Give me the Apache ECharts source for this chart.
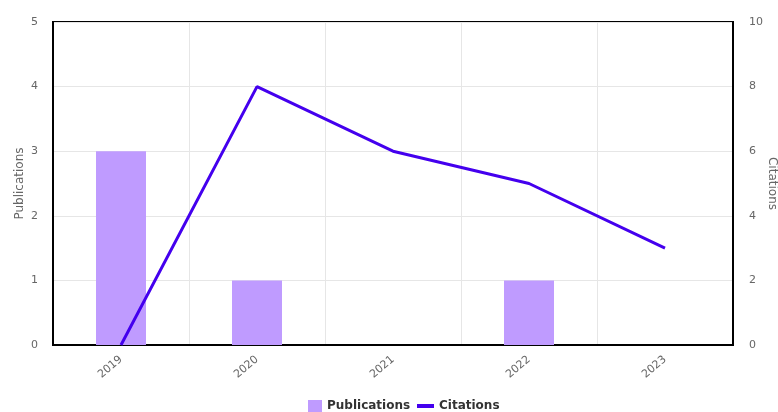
<!DOCTYPE html>
<html>
<head>
<meta charset="utf-8">
<script src="https://cdn.jsdelivr.net/npm/echarts@6/dist/echarts.min.js"></script>
<style>html,body{margin:0;padding:0;background:#fff}#c{width:778px;height:412px}</style>
</head>
<body>
<div id="c"></div>
<script>
const years = ['2019', '2020', '2021', '2022', '2023'];
const publications = [3, 1, 0, 1, 0];
const citations = [0, 8, 6, 5, 3];

const chart = echarts.init(document.getElementById('c'));
const font = 'DejaVu Sans';
const legendText = { fontFamily: font, fontWeight: 'bold', fontSize: 12, color: '#333' };
chart.setOption({
  animation: false,
  textStyle: { fontFamily: font },
  grid: { left: 53, right: 45, top: 22, bottom: 67, show: true, borderColor: '#000', borderWidth: 2, backgroundColor: 'transparent', containLabel: false, outerBoundsMode: 'none' },
  legend: [
    {
      left: 306, top: 398, itemWidth: 14, itemHeight: 12, itemGap: 6, padding: 2,
      textStyle: legendText,
      data: [{ name: 'Publications', icon: 'rect' }]
    },
    {
      left: 415, top: 398, itemWidth: 17, itemHeight: 4, padding: 2,
      textStyle: legendText,
      data: [{ name: 'Citations', icon: 'rect' }]
    }
  ],
  xAxis: {
    type: 'category', data: years,
    axisLine: { lineStyle: { color: '#000', width: 2 } },
    axisTick: { show: false },
    axisLabel: { rotate: 40, color: '#666', fontSize: 11, margin: 13, fontFamily: font },
    splitLine: { show: true, lineStyle: { color: '#e6e6e6' } }
  },
  yAxis: [
    {
      type: 'value', min: 0, max: 5, interval: 1, name: 'Publications',
      nameLocation: 'middle', nameGap: 27, nameRotate: 90, nameMoveOverlap: false,
      nameTextStyle: { color: '#666', fontSize: 12, fontFamily: font },
      axisLine: { show: true, lineStyle: { color: '#000', width: 2 } },
      axisLabel: { color: '#666', fontSize: 11, margin: 15, fontFamily: font },
      splitLine: { lineStyle: { color: '#e6e6e6' } }
    },
    {
      type: 'value', min: 0, max: 10, interval: 2, name: 'Citations',
      nameLocation: 'middle', nameGap: 33, nameRotate: -90, nameMoveOverlap: false,
      nameTextStyle: { color: '#666', fontSize: 12, fontFamily: font },
      axisLine: { show: true, lineStyle: { color: '#000', width: 2 } },
      axisLabel: { color: '#666', fontSize: 11, margin: 16, fontFamily: font },
      splitLine: { show: false }
    }
  ],
  series: [
    {
      name: 'Publications', type: 'bar', data: publications, yAxisIndex: 0,
      barWidth: 50, itemStyle: { color: '#bf9bff' }
    },
    {
      name: 'Citations', type: 'line', data: citations, yAxisIndex: 1,
      symbol: 'none', lineStyle: { color: '#4400ee', width: 3 }, itemStyle: { color: '#4400ee' }
    }
  ]
});
</script>
</body>
</html>
